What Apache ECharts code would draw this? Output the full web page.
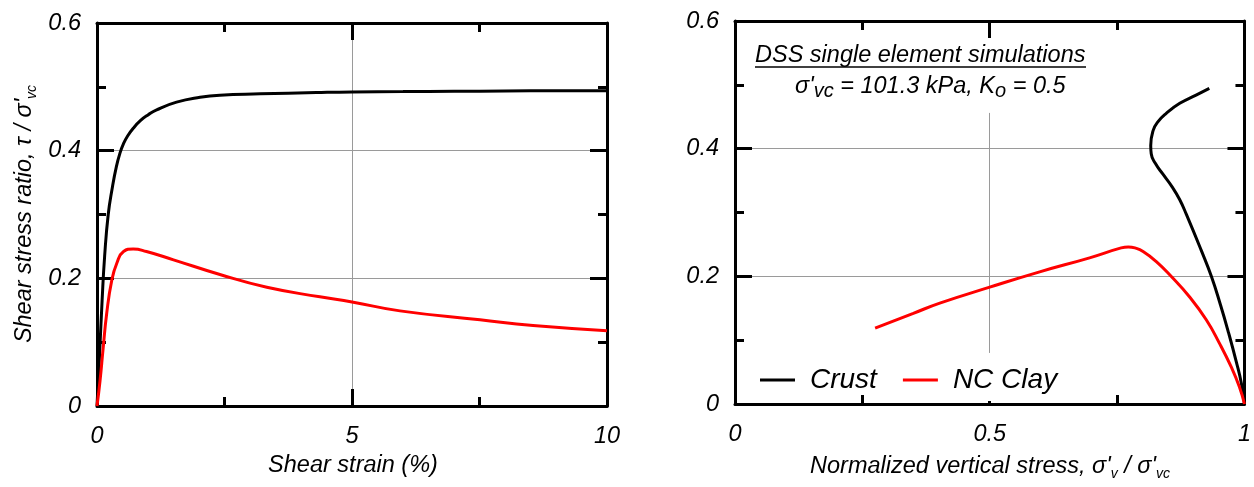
<!DOCTYPE html>
<html>
<head>
<meta charset="utf-8">
<script src="https://cdn.jsdelivr.net/npm/echarts@6/dist/echarts.min.js"></script>
<style>
  html, body { margin: 0; padding: 0; background: #fff; }
  #chart { width: 1254px; height: 487px; }
</style>
</head>
<body>
<div id="chart"></div>
<script>
// Stress–strain curves (shear strain in %, shear stress ratio τ/σ'vc)
const crustStrain = [0, 0.05, 0.1, 0.15, 0.22, 0.3, 0.38, 0.45, 0.52, 0.6, 0.71, 0.85, 1.0, 1.17, 1.56, 2.02, 2.41, 3.2, 4.3, 5, 6, 7, 8, 9, 10];
const crustStress = [0, 0.08, 0.165, 0.235, 0.30, 0.342, 0.375, 0.396, 0.411, 0.423, 0.435, 0.447, 0.456, 0.464, 0.476, 0.4836, 0.487, 0.489, 0.491, 0.492, 0.4925, 0.493, 0.4935, 0.4938, 0.494];
const clayStrain = [0, 0.06, 0.12, 0.19, 0.29, 0.39, 0.52, 0.71, 0.97, 1.5, 2.41, 3.33, 4.37, 5, 5.94, 7.51, 8.55, 10];
const clayStress = [0, 0.04, 0.09, 0.145, 0.197, 0.224, 0.242, 0.246, 0.242, 0.229, 0.206, 0.186, 0.171, 0.163, 0.149, 0.135, 0.126, 0.118];

// Stress paths (normalized vertical stress σ'v/σ'vc, shear stress ratio τ/σ'vc)
const crustPathSv = [1, 0.994, 0.984, 0.969, 0.953, 0.935, 0.915, 0.886, 0.873, 0.859, 0.840, 0.825, 0.817, 0.816, 0.821, 0.830, 0.846, 0.873, 0.905, 0.931];
const crustPathTau = [0, 0.032, 0.066, 0.111, 0.155, 0.2, 0.241, 0.297, 0.32, 0.339, 0.36, 0.377, 0.392, 0.405, 0.429, 0.442, 0.455, 0.471, 0.484, 0.4945];
const clayPathSv = [1, 0.990, 0.974, 0.951, 0.925, 0.892, 0.856, 0.827, 0.801, 0.785, 0.772, 0.758, 0.696, 0.598, 0.5, 0.402, 0.35, 0.275];
const clayPathTau = [0, 0.027, 0.058, 0.095, 0.132, 0.168, 0.2, 0.223, 0.239, 0.2445, 0.246, 0.2445, 0.229, 0.207, 0.183, 0.158, 0.142, 0.119];

// Axis ranges and tick steps
const strainAxis = { min: 0, max: 10, interval: 5 };
const svAxis = { min: 0, max: 1, interval: 0.5 };
const tauAxis = { min: 0, max: 0.6, interval: 0.2 };
const seriesNames = ['Crust', 'NC Clay'];

const zip = (xs, ys) => xs.map((x, i) => [x, ys[i]]);

const FONT = 'Liberation Sans, Arial, sans-serif';
const BLACK = '#000';
const RED = '#ff0000';
const GRID_GRAY = '#9a9a9a';
const TEXT_SIZE = 23.5;

function frameAxis(range, gridIndex, position, opts) {
  opts = opts || {};
  return {
    type: 'value',
    gridIndex: gridIndex,
    position: position,
    min: range.min,
    max: range.max,
    interval: range.interval,
    axisLine: { show: true, onZero: false, lineStyle: { color: BLACK, width: 3 } },
    axisTick: { show: true, inside: true, length: opts.tickLen || 17, lineStyle: { color: BLACK, width: 3 } },
    minorTick: { show: true, splitNumber: 2, length: opts.minorLen || 9, lineStyle: { color: BLACK, width: 3 } },
    axisLabel: opts.labels ? {
      show: true, margin: opts.margin || 20, color: BLACK, fontSize: TEXT_SIZE,
      fontStyle: 'italic', fontFamily: FONT
    } : { show: false },
    splitLine: { show: !!opts.split, lineStyle: { color: GRID_GRAY, width: 1 } },
    minorSplitLine: { show: false }
  };
}

const subRich = {
  m: { fontSize: TEXT_SIZE, fontStyle: 'italic', fontFamily: FONT, color: BLACK, lineHeight: 30 },
  s: { fontSize: 14, fontStyle: 'italic', fontFamily: FONT, color: BLACK, lineHeight: 14, verticalAlign: 'bottom' }
};
const annRich = {
  m: { fontSize: TEXT_SIZE, fontStyle: 'italic', fontFamily: FONT, color: BLACK, lineHeight: 30 },
  s: { fontSize: 20, fontStyle: 'italic', fontFamily: FONT, color: BLACK, lineHeight: 18, verticalAlign: 'bottom' }
};

function curve(name, xIdx, data, color) {
  return {
    name: name, type: 'line', xAxisIndex: xIdx, yAxisIndex: xIdx,
    data: data, showSymbol: false, smooth: 0.5,
    lineStyle: { color: color, width: 3 }, itemStyle: { color: color }, z: 5
  };
}

const chart = echarts.init(document.getElementById('chart'), null, { renderer: 'canvas' });

const clayPath = curve(seriesNames[1], 2, zip(clayPathSv, clayPathTau), RED);
// vertical reference line at σ'v/σ'vc = 0.5, kept clear of the note and legend
clayPath.markLine = {
  silent: true, symbol: ['none', 'none'], label: { show: false },
  lineStyle: { color: GRID_GRAY, width: 1, type: 'solid' },
  data: [[{ coord: [0.5, 0.08] }, { coord: [0.5, 0.456] }]]
};

chart.setOption({
  animation: false,
  backgroundColor: '#fff',
  grid: [
    { left: 97, top: 23, width: 510, height: 383, containLabel: false },
    { left: 735, top: 21, width: 510, height: 383, containLabel: false }
  ],
  xAxis: [
    frameAxis(strainAxis, 0, 'bottom', { labels: true, split: true, margin: 19 }),
    frameAxis(strainAxis, 0, 'top'),
    frameAxis(svAxis, 1, 'bottom', { labels: true, margin: 19, tickLen: 3, minorLen: 9 }),
    frameAxis(svAxis, 1, 'top')
  ],
  yAxis: [
    frameAxis(tauAxis, 0, 'left', { labels: true, split: true, margin: 16 }),
    frameAxis(tauAxis, 0, 'right'),
    frameAxis(tauAxis, 1, 'left', { labels: true, split: true, margin: 16 }),
    frameAxis(tauAxis, 1, 'right')
  ],
  legend: {
    data: seriesNames,
    left: 755,
    top: 361,
    orient: 'horizontal',
    icon: 'rect',
    itemWidth: 35,
    itemHeight: 3,
    itemGap: 26,
    selectedMode: false,
    textStyle: { fontSize: 28, fontStyle: 'italic', fontFamily: FONT, color: BLACK, padding: [0, 0, 0, 10] }
  },
  series: [
    curve(seriesNames[0], 0, zip(crustStrain, crustStress), BLACK),
    curve(seriesNames[1], 0, zip(clayStrain, clayStress), RED),
    curve(seriesNames[0], 2, zip(crustPathSv, crustPathTau), BLACK),
    clayPath
  ],
  graphic: [
    {
      type: 'text', x: 24, y: 214, rotation: Math.PI / 2,
      style: {
        text: "{m|Shear stress ratio, τ / σ'}{s|vc}", rich: subRich,
        align: 'center', verticalAlign: 'middle'
      }
    },
    {
      type: 'text', x: 353, y: 465,
      style: {
        text: 'Shear strain (%)', fontSize: TEXT_SIZE, fontStyle: 'italic', fontFamily: FONT, fill: BLACK,
        align: 'center', verticalAlign: 'middle'
      }
    },
    {
      type: 'text', x: 990, y: 466,
      style: {
        text: "{m|Normalized vertical stress, σ'}{s|v}{m| / σ'}{s|vc}", rich: subRich,
        align: 'center', verticalAlign: 'middle'
      }
    },
    {
      type: 'text', x: 755, y: 55,
      style: {
        text: 'DSS single element simulations', fontSize: TEXT_SIZE, fontStyle: 'italic', fontFamily: FONT, fill: BLACK,
        align: 'left', verticalAlign: 'middle'
      }
    },
    {
      type: 'line', shape: { x1: 755, y1: 67, x2: 1086, y2: 67 },
      style: { stroke: BLACK, lineWidth: 1.5 }
    },
    {
      type: 'text', x: 795, y: 86,
      style: {
        text: "{m|σ'}{s|vc}{m| = 101.3 kPa, K}{s|o}{m| = 0.5}", rich: annRich,
        align: 'left', verticalAlign: 'middle'
      }
    }
  ]
});
</script>
</body>
</html>
